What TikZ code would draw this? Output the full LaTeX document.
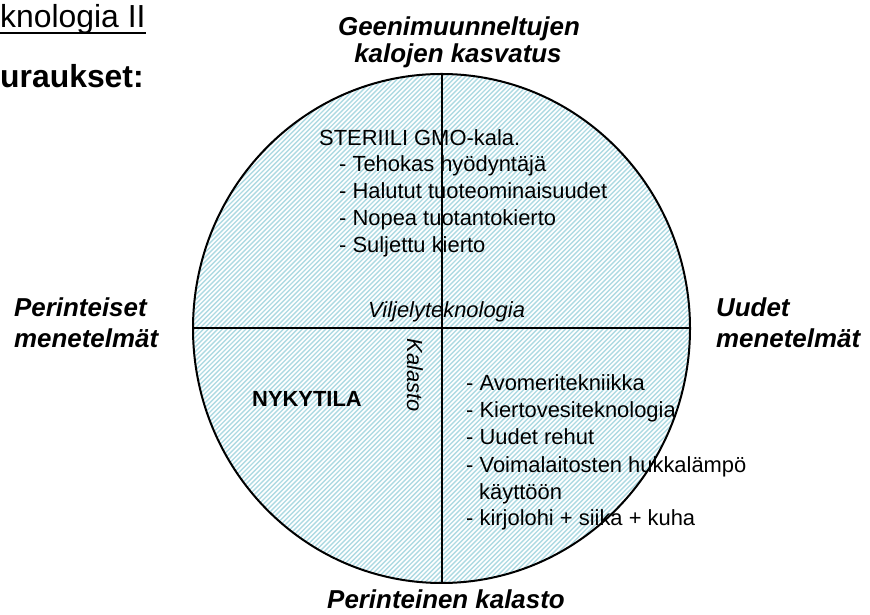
\documentclass[tikz,border=0pt]{standalone}
\usepackage{fontspec}
\setmainfont{Liberation Sans}
\usetikzlibrary{shapes.geometric}
\definecolor{hatchblue}{RGB}{174,218,226}
\begin{document}
\begin{tikzpicture}[line join=bevel,
    txt/.style={inner sep=0pt,anchor=base west,font=\fontsize{22}{26}\selectfont},
    headtxt/.style={inner sep=0pt,anchor=base,font=\fontsize{26}{27}\selectfont\bfseries\itshape},
    hatchline/.style={draw=hatchblue,line width=1.4bp},
    axis/.style={draw=black,line width=2bp},
  ]
    %%
    \useasboundingbox (0bp,0bp) rectangle (870bp,615bp);
    \node (disc) at (441.5bp,286.5bp) [draw=black,ellipse,line width=2bp,inner sep=0pt,minimum width=497bp,minimum height=509bp,
      path picture={\foreach \d in {-530,-525.3,...,510} \draw[hatchline] ([xshift=\d bp]path picture bounding box.south west) -- ++(620bp,620bp);}] {};
    \draw [axis] (disc.north) -- (disc.south);
    \draw [axis] (disc.west) -- (disc.east);
    %
    \node (knol) at (0bp,587bp) [txt,font=\fontsize{32}{34}\selectfont] {knologia II};
    \draw [line width=2bp] ([yshift=-5.5bp]knol.base west) -- ([yshift=-5.5bp]knol.base east);
    \node (ura) at (0bp,527bp) [txt,font=\fontsize{32}{34}\selectfont\bfseries] {uraukset:};
    %
    \node (gmo1) at (459bp,579bp) [headtxt] {Geenimuunneltujen};
    \node (gmo2) at (458bp,552bp) [headtxt] {kalojen kasvatus};
    \node (old1) at (14bp,298bp) [headtxt,anchor=base west] {Perinteiset};
    \node (old2) at (14bp,267bp) [headtxt,anchor=base west] {menetelmät};
    \node (new1) at (716bp,298bp) [headtxt,anchor=base west] {Uudet};
    \node (new2) at (716bp,267bp) [headtxt,anchor=base west] {menetelmät};
    \node (fish) at (446bp,7bp) [headtxt] {Perinteinen kalasto};
    %
    \node (ster) at (319bp,469bp) [txt] {STERIILI GMO-kala.};
    \node (ster1) at (339bp,443bp) [txt] {- Tehokas hyödyntäjä};
    \node (ster2) at (339bp,416bp) [txt] {- Halutut tuoteominaisuudet};
    \node (ster3) at (339bp,389bp) [txt] {- Nopea tuotantokierto};
    \node (ster4) at (339bp,362bp) [txt] {- Suljettu kierto};
    %
    \node (vilj) at (368bp,297bp) [txt,font=\fontsize{22}{26}\selectfont\itshape] {Viljelyteknologia};
    \node (kal) at (415bp,240bp) [inner sep=0pt,rotate=-90,font=\fontsize{22}{26}\selectfont\itshape] {Kalasto};
    \node (now) at (252bp,208bp) [txt,font=\fontsize{22}{26}\selectfont\bfseries] {NYKYTILA};
    %
    \node (tek1) at (466bp,224bp) [txt] {- Avomeritekniikka};
    \node (tek2) at (466bp,197bp) [txt] {- Kiertovesiteknologia};
    \node (tek3) at (466bp,170bp) [txt] {- Uudet rehut};
    \node (tek4) at (466bp,142bp) [txt] {- Voimalaitosten hukkalämpö};
    \node (tek5) at (479bp,115bp) [txt] {käyttöön};
    \node (tek6) at (466bp,89bp) [txt] {- kirjolohi + siika + kuha};
    %
\end{tikzpicture}
\end{document}
